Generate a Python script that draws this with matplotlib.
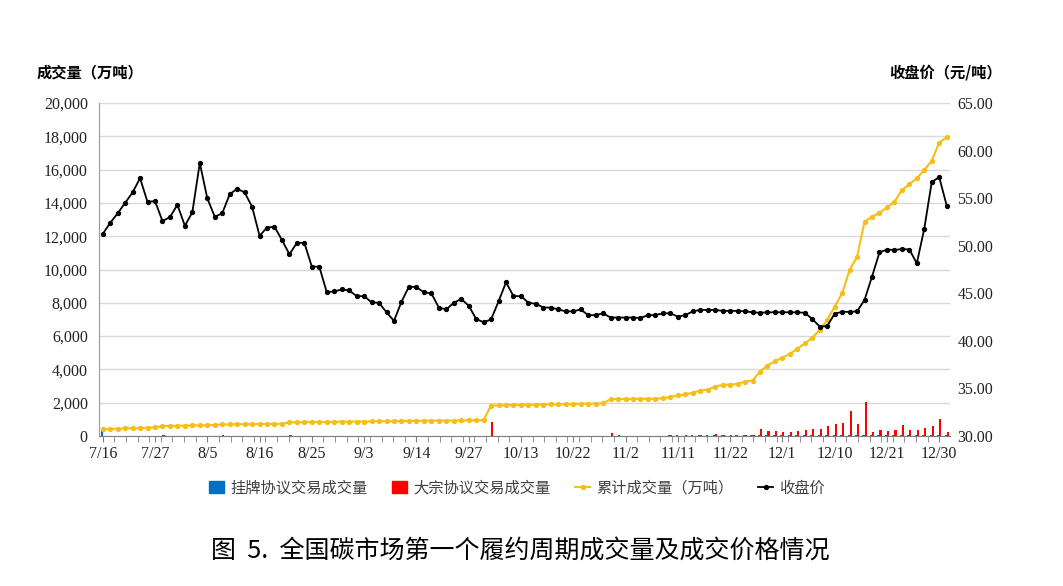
import numpy as np
import matplotlib
matplotlib.use("Agg")
import matplotlib.pyplot as plt
from matplotlib.ticker import MultipleLocator, FuncFormatter, FixedLocator
from matplotlib.lines import Line2D
from matplotlib.patches import Patch

plt.rcParams['font.family'] = ['Liberation Serif', 'Noto Sans CJK SC']
CJK = ['Noto Sans CJK SC', 'DejaVu Sans']

# --- datos (114 días hábiles, 2021-07-16 .. 2021-12-31) ---
tick_labels = ["7/16", "7/27", "8/5", "8/16", "8/25", "9/3", "9/14", "9/27",
               "10/13", "10/22", "11/2", "11/11", "11/22", "12/1", "12/10",
               "12/21", "12/30"]

# 收盘价 (元/吨)
close_price = [
    51.23, 52.4, 53.4, 54.5, 55.6, 57.1, 54.6, 54.7, 52.6, 53.0,
    54.3, 52.1, 53.5, 58.7, 55.0, 53.05, 53.4, 55.4, 56.0, 55.6,
    54.1, 51.05, 51.9, 52.0, 50.6, 49.1, 50.3, 50.3, 47.8, 47.8,
    45.1, 45.2, 45.4, 45.3, 44.7, 44.7, 44.05, 44.0, 43.0, 42.1,
    44.1, 45.7, 45.65, 45.1, 45.0, 43.5, 43.3, 44.0, 44.4, 43.7,
    42.3, 41.95, 42.25, 44.15, 46.15, 44.7, 44.7, 44.0, 43.9, 43.5,
    43.5, 43.3, 43.1, 43.1, 43.3, 42.7, 42.7, 42.9, 42.45, 42.45,
    42.45, 42.45, 42.4, 42.7, 42.7, 42.9, 42.9, 42.55, 42.7, 43.1,
    43.25, 43.25, 43.25, 43.15, 43.15, 43.15, 43.1, 43.0, 42.95, 43.0,
    43.0, 43.0, 43.0, 43.0, 42.95, 42.3, 41.5, 41.55, 42.85, 43.05,
    43.05, 43.1, 44.3, 46.75, 49.3, 49.6, 49.55, 49.65, 49.6, 48.15,
    51.8, 56.7, 57.2, 54.22,
]

# 累计成交量 (万吨)
cumulative = [
    410, 425, 440, 455, 470, 485, 500, 515, 590, 600,
    610, 620, 630, 640, 650, 660, 690, 700, 705, 710,
    715, 720, 725, 730, 735, 820, 825, 830, 835, 840,
    845, 850, 855, 860, 865, 870, 875, 880, 885, 890,
    895, 900, 905, 910, 915, 920, 925, 930, 935, 940,
    945, 950, 1830, 1840, 1850, 1860, 1870, 1875, 1880, 1890,
    1900, 1905, 1910, 1920, 1930, 1940, 1950, 1960, 2210, 2215,
    2220, 2225, 2230, 2235, 2240, 2260, 2340, 2440, 2500, 2600,
    2730, 2790, 2970, 3070, 3090, 3130, 3270, 3330, 3870, 4230,
    4490, 4700, 4930, 5240, 5560, 5900, 6360, 6970, 7770, 8570,
    9970, 10770, 12870, 13170, 13410, 13730, 14070, 14770, 15130, 15480,
    15980, 16530, 17620, 17940,
]

# 挂牌协议交易成交量 (万吨)
listed_volume = [
    410, 15, 14, 15, 14, 15, 13, 12, 12, 10,
    10, 10, 9, 10, 10, 9, 10, 9, 5, 5,
    5, 5, 5, 5, 5, 8, 5, 5, 5, 5,
    5, 5, 5, 5, 5, 5, 5, 5, 5, 5,
    5, 5, 5, 5, 5, 5, 5, 5, 5, 5,
    5, 5, 15, 10, 10, 10, 10, 5, 5, 10,
    10, 5, 5, 10, 10, 10, 10, 10, 20, 5,
    5, 5, 5, 5, 5, 20, 30, 30, 20, 30,
    30, 30, 40, 30, 20, 30, 40, 30, 40, 40,
    40, 40, 40, 40, 50, 60, 70, 80, 80, 70,
    80, 60, 50, 40, 40, 40, 40, 50, 40, 40,
    40, 40, 50, 40,
]

# 大宗协议交易成交量 (万吨)
block_volume = [
    0, 0, 0, 0, 0, 0, 0, 0, 60, 0,
    0, 0, 0, 0, 0, 0, 30, 0, 0, 0,
    0, 0, 0, 0, 0, 70, 0, 0, 0, 0,
    0, 0, 0, 0, 0, 0, 0, 0, 0, 0,
    0, 0, 0, 0, 0, 0, 0, 0, 0, 0,
    0, 20, 860, 0, 0, 0, 0, 0, 0, 0,
    0, 0, 0, 0, 0, 0, 0, 0, 200, 60,
    0, 0, 0, 0, 0, 0, 40, 0, 60, 0,
    80, 0, 90, 60, 30, 0, 80, 40, 420, 320,
    300, 260, 250, 300, 360, 430, 430, 600, 740, 800,
    1520, 740, 2060, 230, 330, 290, 330, 630, 330, 330,
    490, 570, 1050, 230,
]

n = len(close_price)
x = np.arange(n)

# --- figura ---
fig = plt.figure(figsize=(10.63, 5.86), dpi=100)
ax = fig.add_axes([0.0931, 0.2560, 0.8010, 0.5682])

w = 0.28
ax.bar(x - w / 2, listed_volume, w, color='#0070C0', zorder=2)
ax.bar(x + w / 2, block_volume, w, color='#FF0000', zorder=2)
ax.plot(x, cumulative, color='#F7BE16', lw=1.5, marker='o', ms=2.8, zorder=3)

ax.set_xlim(-0.5, n - 0.5)
ax.set_ylim(0, 20000)
ax.yaxis.set_major_locator(MultipleLocator(2000))
ax.yaxis.set_major_formatter(FuncFormatter(lambda v, p: f"{int(v):,}"))
ax.grid(axis='y', color='#d9d9d9', lw=1, zorder=0)
ax.set_axisbelow(True)

ax.xaxis.set_major_locator(FixedLocator(np.arange(0, n, 7)))
ax.set_xticklabels(tick_labels)
ax.xaxis.set_minor_locator(MultipleLocator(14 / 9))
ax.tick_params(axis='x', which='both', direction='out', length=4, color='#808080',
               labelsize=11.5, pad=3, labelcolor='#222222')
ax.tick_params(axis='y', length=0, labelsize=11.5, pad=8, labelcolor='#222222')

for s in ['top', 'right']:
    ax.spines[s].set_visible(False)
ax.spines['left'].set_color('#999999')
ax.spines['bottom'].set_color('#808080')

ax2 = ax.twinx()
ax2.plot(x, close_price, color='black', lw=1.3, marker='o', ms=2.8, zorder=4)
ax2.set_ylim(30, 65)
ax2.yaxis.set_major_locator(MultipleLocator(5))
ax2.yaxis.set_major_formatter(FuncFormatter(lambda v, p: f"{v:.2f}"))
ax2.tick_params(axis='y', length=0, labelsize=11.5, pad=5, labelcolor='#222222')
for s in ax2.spines.values():
    s.set_visible(False)

# títulos de ejes
fig.text(37 / 1063, 1 - 72 / 586, '成交量（万吨）', family=CJK, fontsize=11,
         fontweight='bold', va='center', ha='left')
fig.text(1002 / 1063, 1 - 72 / 586, '收盘价（元/吨）', family=CJK, fontsize=11,
         fontweight='bold', va='center', ha='right')

# leyenda
handles = [
    Patch(color='#0070C0'),
    Patch(color='#FF0000'),
    Line2D([], [], color='#F7BE16', lw=1.5, marker='o', ms=2.8),
    Line2D([], [], color='black', lw=1.3, marker='o', ms=2.8),
]
labels = ['挂牌协议交易成交量', '大宗协议交易成交量', '累计成交量（万吨）', '收盘价']
fig.legend(handles, labels, loc='center', bbox_to_anchor=(517 / 1063, 1 - 488 / 586),
           ncol=4, frameon=False, prop={'family': CJK, 'size': 11},
           handlelength=1.0, handleheight=0.8, handletextpad=0.4, columnspacing=1.6,
           labelcolor='#404040')

fig.text(520 / 1063, 1 - 551 / 586, '图  5.  全国碳市场第一个履约周期成交量及成交价格情况',
         family=CJK, fontsize=18, ha='center', va='center')

fig.savefig('out.png', dpi=100)
